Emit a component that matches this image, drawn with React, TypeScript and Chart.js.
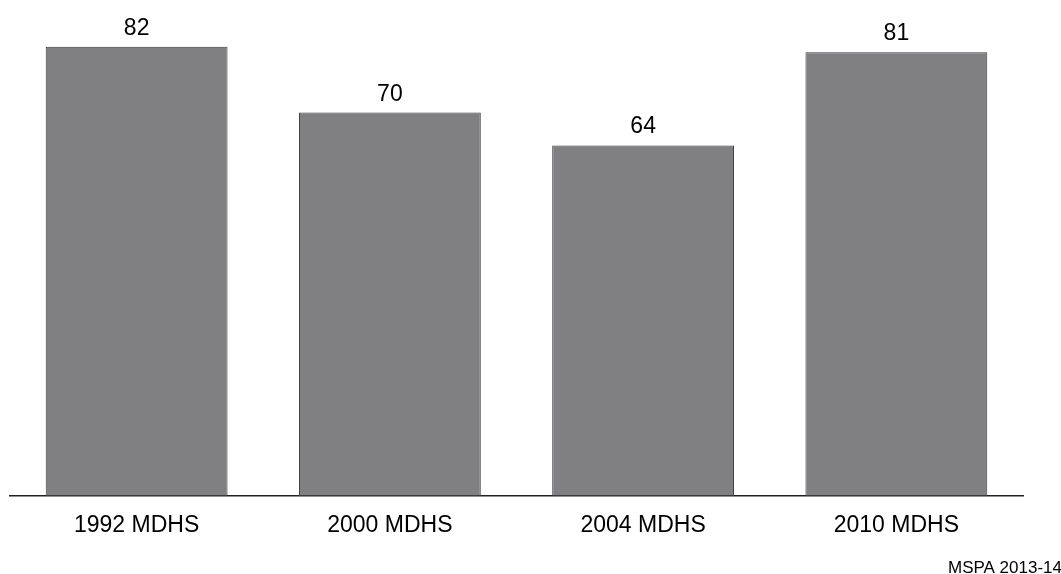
import React, { useEffect, useRef } from "react";
import { Chart, registerables } from "chart.js";

Chart.register(...registerables);

// Survey rounds and their values
const categories = ["1992 MDHS", "2000 MDHS", "2004 MDHS", "2010 MDHS"];
const values = [82, 70, 64, 81];
const sourceNote = "MSPA 2013-14";

const FONT = "Arial, 'Liberation Sans', sans-serif";

// Writes each bar's value above it and the source note in the lower right corner
const annotations = {
  id: "annotations",
  afterDatasetsDraw(chart: any) {
    const { ctx } = chart;
    const meta = chart.getDatasetMeta(0);
    ctx.save();
    ctx.fillStyle = "#000";
    ctx.font = `23px ${FONT}`;
    ctx.textAlign = "center";
    ctx.textBaseline = "alphabetic";
    meta.data.forEach((bar: any, i: number) => {
      ctx.fillText(String(values[i]), bar.x, bar.y - 12);
    });
    ctx.font = `17px ${FONT}`;
    ctx.textAlign = "right";
    ctx.fillText(sourceNote, chart.width + 1, chart.height - 1);
    ctx.restore();
  },
};

export default function App() {
  const canvasRef = useRef<HTMLCanvasElement | null>(null);

  useEffect(() => {
    if (!canvasRef.current) return;
    const chart = new Chart(canvasRef.current, {
      type: "bar",
      data: {
        labels: categories,
        datasets: [
          {
            data: values,
            backgroundColor: "#808083",
            borderColor: "#3a3a3d",
            borderWidth: 1,
            borderSkipped: false,
            barPercentage: 0.718,
            categoryPercentage: 1,
          },
        ],
      },
      options: {
        responsive: false,
        animation: false,
        events: [],
        layout: { padding: { left: 10, right: 38, top: 3, bottom: 0 } },
        plugins: {
          legend: { display: false },
          tooltip: { enabled: false },
        },
        scales: {
          x: {
            grid: { display: false, drawTicks: false },
            border: { display: true, color: "#231f20", width: 1.5 },
            ticks: {
              color: "#000",
              font: { family: FONT, size: 23 },
              padding: 16,
              maxRotation: 0,
            },
            afterFit(scale: any) {
              scale.height = 78;
            },
          },
          y: {
            display: false,
            min: 0,
            max: 90,
          },
        },
      },
      plugins: [annotations],
    });
    return () => chart.destroy();
  }, []);

  return (
    <div style={{ position: "absolute", left: 0, top: 0, width: 1061, height: 574, background: "#fff" }}>
      <canvas ref={canvasRef} width={1061} height={574} />
    </div>
  );
}
